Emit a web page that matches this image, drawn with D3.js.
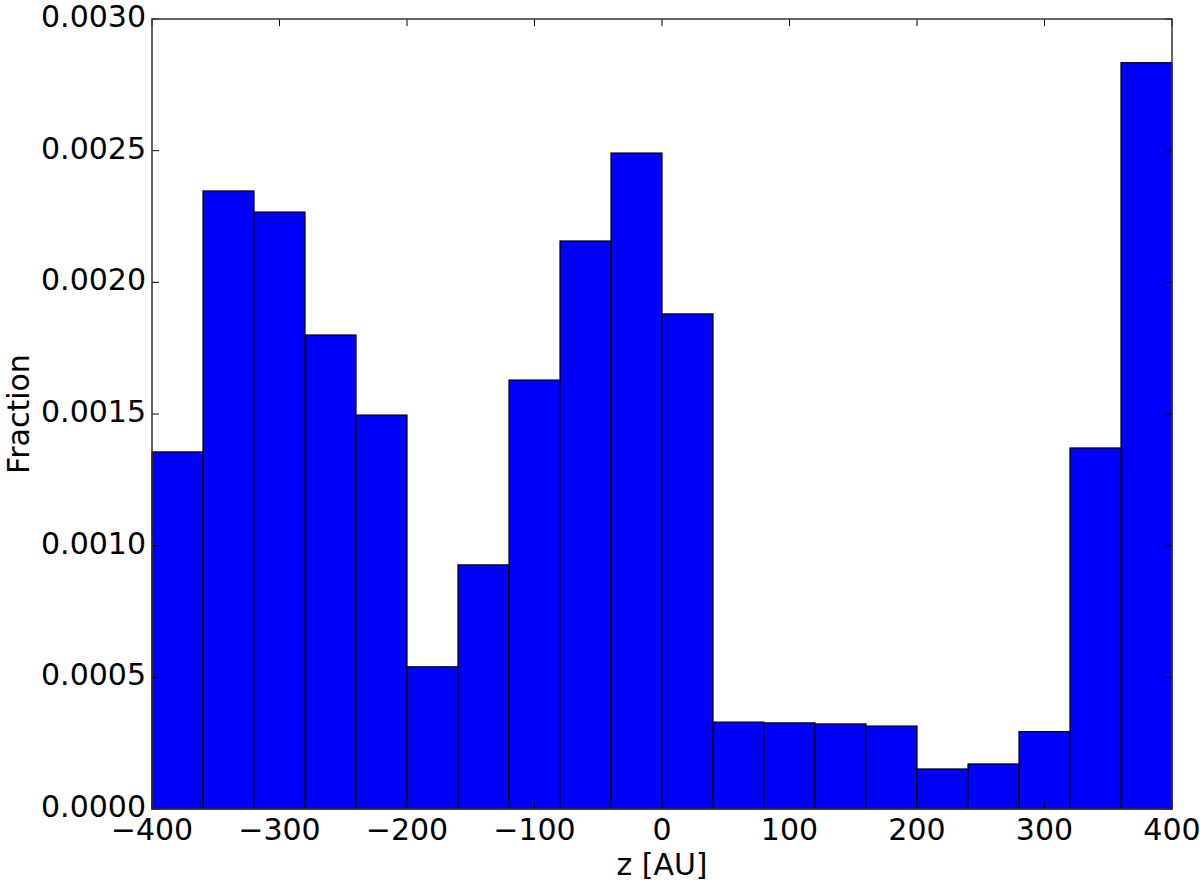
<!DOCTYPE html>
<html><head><meta charset="utf-8">
<script src="https://cdn.jsdelivr.net/npm/d3@7"></script>
<style>body{margin:0;background:#fff}svg text{font-family:"DejaVu Sans",sans-serif;fill:#000}</style>
</head><body><svg id="c" width="1200" height="886"></svg>
<script>
const binEdges = [-400,-360,-320,-280,-240,-200,-160,-120,-80,-40,0,40,80,120,160,200,240,280,320,360,400];
const fractions = [0.001356,0.002347,0.002267,0.0018,0.001496,0.00054,0.000927,0.001629,0.002157,0.002491,0.00188,0.00033,0.000327,0.000323,0.000315,0.000152,0.000171,0.000294,0.001371,0.002834];
const xTicks = [-400,-300,-200,-100,0,100,200,300,400];
const yTicks = [0,0.0005,0.001,0.0015,0.002,0.0025,0.003];
const xLabel = "z [AU]", yLabel = "Fraction";

const L=152,T=19,R=1172,B=809;
const FS=30;
const svg=d3.select("#c");
const x=d3.scaleLinear().domain([-400,400]).range([L,R]);
const y=d3.scaleLinear().domain([0,0.003]).range([B,T]);
const bins=fractions.map((v,i)=>({x0:binEdges[i],x1:binEdges[i+1],v}));
svg.append("g").selectAll("rect").data(bins).join("rect")
 .attr("x",d=>x(d.x0)).attr("width",d=>x(d.x1)-x(d.x0))
 .attr("y",d=>y(d.v)).attr("height",d=>y(0)-y(d.v))
 .attr("fill","#0000ff").attr("stroke","#000").attr("stroke-width",1.2);
const fmtX=d=>(d<0?"\u2212"+Math.abs(d):String(d));
const fmtY=d=>d.toFixed(4);
const tl=7;
const g=svg.append("g").attr("stroke","#000").attr("stroke-width",1);
xTicks.forEach(t=>{
 g.append("line").attr("x1",x(t)).attr("x2",x(t)).attr("y1",B).attr("y2",B-tl);
 g.append("line").attr("x1",x(t)).attr("x2",x(t)).attr("y1",T).attr("y2",T+tl);
});
yTicks.forEach(t=>{
 g.append("line").attr("x1",L).attr("x2",L+tl).attr("y1",y(t)).attr("y2",y(t));
 g.append("line").attr("x1",R).attr("x2",R-tl).attr("y1",y(t)).attr("y2",y(t));
});
svg.append("rect").attr("x",L).attr("y",T).attr("width",R-L).attr("height",B-T)
 .attr("fill","none").attr("stroke","#333").attr("stroke-width",1.5);
svg.append("g").selectAll("text").data(xTicks).join("text")
 .attr("x",d=>x(d)).attr("y",B+31).attr("text-anchor","middle").attr("font-size",FS).text(fmtX);
svg.append("g").selectAll("text").data(yTicks).join("text")
 .attr("x",L-6).attr("y",d=>y(d)+8).attr("text-anchor","end").attr("font-size",FS).text(fmtY);
svg.append("text").attr("x",(L+R)/2).attr("y",875).attr("text-anchor","middle").attr("font-size",FS).text(xLabel);
svg.append("text").attr("transform",`translate(29,${(T+B)/2}) rotate(-90)`).attr("text-anchor","middle").attr("font-size",FS).text(yLabel);
</script></body></html>
